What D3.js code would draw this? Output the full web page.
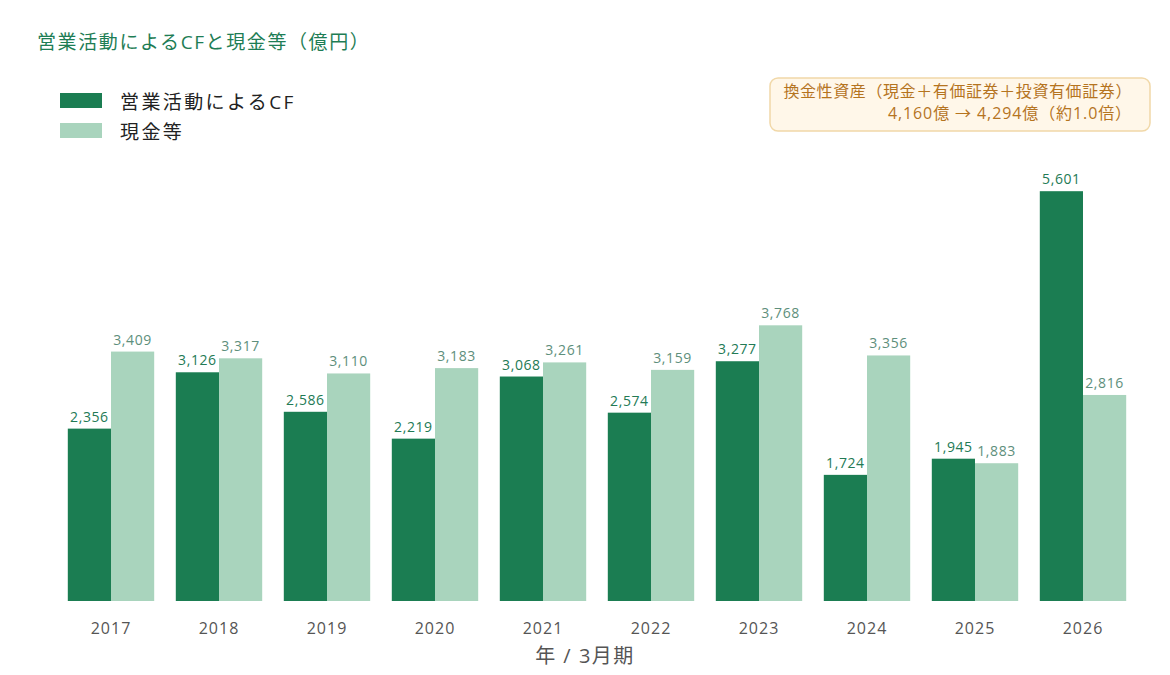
<!DOCTYPE html>
<html>
<head>
<meta charset="utf-8">
<script src="https://cdn.jsdelivr.net/npm/d3@7"></script>
<style>
  body { margin: 0; background: #fff; }
  svg { font-family: "Open Sans", "Noto Sans CJK JP", sans-serif; }
</style>
</head>
<body>
<div id="chart"></div>
<script>
// data
var years = ['2017', '2018', '2019', '2020', '2021', '2022', '2023', '2024', '2025', '2026'];
var operatingCF = [2356, 3126, 2586, 2219, 3068, 2574, 3277, 1724, 1945, 5601];
var cashEtc = [3409, 3317, 3110, 3183, 3261, 3159, 3768, 3356, 1883, 2816];
var seriesNames = ['営業活動によるCF', '現金等'];
var noteLines = ['換金性資産（現金＋有価証券＋投資有価証券）', '4,160億 → 4,294億（約1.0倍）'];

var width = 1170, height = 675;
var darkGreen = '#1b7d52', lightGreen = '#a9d4bd';

var svg = d3.select('#chart').append('svg')
  .attr('width', width)
  .attr('height', height);

var x0 = d3.scaleBand()
  .domain(years)
  .range([57, 1137])
  .paddingInner(0.2)
  .paddingOuter(0.1);

var x1 = d3.scaleBand()
  .domain([0, 1])
  .range([0, x0.bandwidth()]);

var y = d3.scaleLinear()
  .domain([0, 6000])
  .range([601, 162]);

var fmt = d3.format(',');

// title
svg.append('text')
  .attr('x', 37).attr('y', 49)
  .attr('fill', '#1e7d55')
  .style('font-size', '19px')
  .style('letter-spacing', '1.6px')
  .text('営業活動によるCFと現金等（億円）');

// legend
var legend = svg.selectAll('.legend')
  .data(seriesNames)
  .enter().append('g')
  .attr('class', 'legend')
  .attr('transform', function(d, i) { return 'translate(60,' + (93 + i * 30) + ')'; });

legend.append('rect')
  .attr('width', 42).attr('height', 15)
  .attr('fill', function(d, i) { return i === 0 ? darkGreen : lightGreen; });

legend.append('text')
  .attr('x', 60).attr('y', 16)
  .attr('fill', '#222')
  .style('font-size', '19px')
  .style('letter-spacing', '2.4px')
  .text(function(d) { return d; });

// note box
var note = svg.append('g');
note.append('rect')
  .attr('x', 770).attr('y', 78)
  .attr('width', 380).attr('height', 53)
  .attr('rx', 8)
  .attr('fill', '#fff7e9')
  .attr('stroke', '#f1d8a8')
  .attr('stroke-width', 1.5);
note.selectAll('text')
  .data(noteLines)
  .enter().append('text')
  .attr('x', 1132)
  .attr('y', function(d, i) { return 97 + i * 22; })
  .attr('text-anchor', 'end')
  .attr('fill', '#b5741f')
  .style('font-size', '16px')
  .style('letter-spacing', function(d, i) { return i === 0 ? '0.6px' : '0.9px'; })
  .text(function(d) { return d; });

// bars
var rows = years.map(function(yr, i) {
  return { year: yr, values: [operatingCF[i], cashEtc[i]] };
});

var group = svg.selectAll('.group')
  .data(rows)
  .enter().append('g')
  .attr('class', 'group')
  .attr('transform', function(d) { return 'translate(' + x0(d.year) + ',0)'; });

var bar = group.selectAll('.bar')
  .data(function(d) { return d.values.map(function(v, k) { return { k: k, v: v }; }); })
  .enter();

bar.append('rect')
  .attr('x', function(d) { return x1(d.k); })
  .attr('y', function(d) { return y(d.v); })
  .attr('width', x1.bandwidth())
  .attr('height', function(d) { return y(0) - y(d.v); })
  .attr('fill', function(d) { return d.k === 0 ? darkGreen : lightGreen; });

bar.append('text')
  .attr('x', function(d) { return x1(d.k) + x1.bandwidth() / 2; })
  .attr('y', function(d) { return y(d.v) - 7; })
  .attr('text-anchor', 'middle')
  .attr('fill', function(d) { return d.k === 0 ? '#237a55' : '#5e8f7c'; })
  .style('font-size', '14px')
  .style('letter-spacing', '0.6px')
  .text(function(d) { return fmt(d.v); });

// x axis
var xAxis = d3.axisBottom(x0).tickSize(0).tickPadding(0);
var axisG = svg.append('g')
  .attr('transform', 'translate(0,601)')
  .call(xAxis);
axisG.select('.domain').remove();
axisG.selectAll('text')
  .attr('y', 33)
  .attr('dy', 0)
  .attr('fill', '#555')
  .style('font-size', '16px')
  .style('letter-spacing', '1px')
  .style('font-family', '"Open Sans", "Noto Sans CJK JP", sans-serif');

svg.append('text')
  .attr('x', 585).attr('y', 663)
  .attr('text-anchor', 'middle')
  .attr('fill', '#555')
  .style('font-size', '20px')
  .style('letter-spacing', '1.5px')
  .text('年 / 3月期');
</script>
</body>
</html>
